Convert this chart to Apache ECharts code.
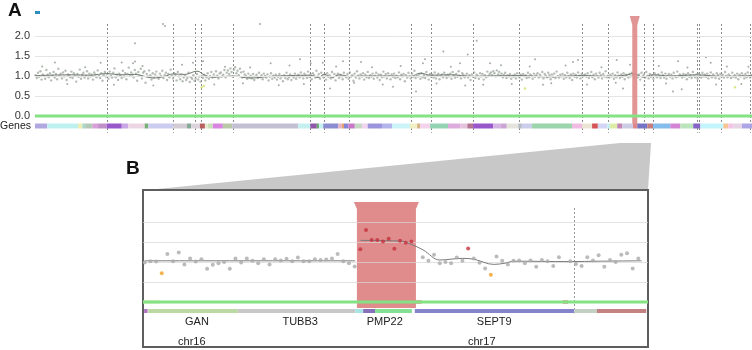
<!DOCTYPE html>
<html><head><meta charset="utf-8">
<script src="https://cdn.jsdelivr.net/npm/echarts@6/dist/echarts.min.js"></script>
<style>html,body{margin:0;padding:0;background:#fff}#c{width:752px;height:350px}</style>
</head><body><div id="c"></div>
<script>
// ---------- Panel A data ----------
const aVals = [
1.02,0.95,1.08,0.98,1.12,0.91,1.04,1.00,0.93,1.15,1.03,0.97,1.07,0.89,1.01,1.10,0.96,1.05,0.92,1.18,
1.00,1.06,0.94,1.09,0.99,1.13,0.90,1.04,1.02,0.97,1.11,0.95,1.07,1.01,0.86,1.05,0.98,1.16,0.93,1.03,
1.08,0.96,1.01,1.12,0.94,1.06,0.99,1.03,0.91,1.09,1.04,0.97,1.14,1.00,0.95,1.07,0.88,1.02,1.10,0.98,
1.05,0.93,1.11,1.01,0.96,1.08,1.19,0.97,1.04,0.90,1.06,1.02,0.95,1.13,0.99,1.07,0.92,1.05,1.21,1.00,
1.09,1.03,0.97,1.15,1.06,0.88,1.10,1.01,1.18,0.94,1.08,1.12,0.83,1.05,0.99,1.14,1.02,0.91,1.07,0.96,
1.04,1.11,0.98,0.93,1.06,1.00,1.13,0.95,1.02,1.08,0.90,1.05,0.97,1.16,1.01,0.94,1.07,1.03,0.89,1.10,
0.99,0.92,1.04,0.87,0.96,1.01,0.90,0.95,1.08,0.85,0.97,0.93,1.02,0.88,0.94,1.05,0.91,0.98,0.86,1.00,
0.95,1.03,0.89,0.97,1.07,0.93,1.00,1.10,0.96,1.04,0.98,1.12,1.01,0.94,1.06,1.09,0.99,1.03,1.15,0.97,
1.08,1.14,1.05,1.19,1.10,0.98,1.16,1.22,1.07,1.13,1.02,1.18,1.09,0.96,1.11,1.04,1.00,0.93,1.06,0.97,
1.01,0.94,1.05,0.90,0.99,1.03,0.95,1.08,0.97,1.02,0.92,1.06,1.00,0.96,1.04,0.89,0.98,1.07,0.93,1.01,
0.96,1.03,0.91,0.98,1.05,0.94,0.99,0.87,1.02,0.95,1.08,0.92,0.97,1.04,0.90,1.00,0.96,1.06,0.93,0.99,
1.03,0.97,1.09,1.00,0.94,1.06,1.01,0.95,1.11,0.98,1.04,0.92,1.07,1.02,0.96,1.13,0.99,1.05,0.93,1.08,
1.00,0.96,1.04,0.91,1.07,0.98,1.02,0.94,1.10,0.97,1.05,0.89,1.01,1.06,0.95,1.03,0.99,0.92,1.08,1.00,
0.97,1.05,0.93,1.09,0.98,1.02,0.88,1.06,0.96,1.12,1.01,0.94,1.04,0.99,1.07,0.91,1.03,0.97,1.10,0.95,
1.02,0.98,1.06,0.93,1.01,1.08,0.96,1.04,0.90,1.03,0.97,1.11,0.99,1.05,0.94,1.07,1.00,0.92,1.04,0.98,
1.06,0.95,1.01,0.97,1.09,0.92,1.03,0.99,1.05,0.87,1.02,0.96,1.08,1.00,0.94,1.06,0.98,1.13,0.95,1.01,
0.99,1.04,0.93,1.07,0.97,1.02,0.95,1.10,1.00,0.91,1.05,0.98,1.03,0.96,1.09,0.94,1.01,1.06,0.92,1.00,
1.04,0.97,1.08,1.01,0.95,1.03,0.99,1.06,0.93,1.10,1.02,0.96,1.05,0.98,1.12,1.00,0.94,1.07,1.03,0.97,
1.01,1.06,0.96,1.02,0.90,1.04,0.98,1.09,0.95,1.03,1.00,0.93,1.07,0.99,1.05,0.91,1.02,0.97,1.11,1.00,
1.05,1.09,1.02,1.12,1.07,0.99,1.14,1.04,1.10,1.01,1.06,0.97,1.03,1.08,0.95,1.02,0.99,1.05,0.93,1.01,
0.98,1.04,0.94,1.07,1.00,0.96,1.03,0.91,1.05,0.99,1.02,0.95,1.08,0.97,1.04,1.00,0.93,1.06,0.98,1.02,
1.07,0.96,1.03,0.99,1.10,0.94,1.05,1.01,0.97,1.08,1.02,0.92,1.04,0.98,1.06,0.95,1.11,1.00,0.96,1.03,
0.99,1.05,0.93,1.02,0.97,1.08,1.00,0.95,1.04,0.90,1.06,0.98,1.03,0.96,1.09,1.01,0.94,1.05,0.99,1.02,
1.04,0.98,1.07,0.95,1.01,1.10,0.97,1.03,0.92,1.06,1.00,0.96,1.08,1.02,0.94,1.05,0.99,1.12,0.97,1.01,
0.96,1.03,0.99,1.06,0.93,1.02,0.97,1.09,1.01,0.95,1.04,0.98,1.07,0.92,1.03,1.00,0.96,1.05,0.99,1.08,
1.02,0.95,1.06,1.00,0.97,1.04,0.91,1.08,0.99,1.03,0.96,1.10,1.01,0.94,1.05,0.98,1.02,0.93,1.07,1.00,
0.97,1.04,1.00,0.95,1.09,1.02,0.96,1.06,0.93,1.01,1.05,0.98,1.03,0.94,1.08,1.00,0.97,1.11,0.99,1.04,
1.01,0.96,1.05,0.99,1.03,0.92,1.07,0.98,1.02,0.95,1.10,1.00,0.97,1.04,0.93,1.06,1.01,0.96,1.08,0.99,
1.03,0.98,1.06,0.94,1.01,1.09,0.97,1.04,1.00,0.95,1.07,1.02,0.93,1.05,0.99,1.03,0.96,1.10,1.01,0.97,
1.04,1.00,0.95,1.08,0.98,1.02,0.96,1.06,0.92,1.03,0.99,1.07,1.01,0.94,1.05,0.97,1.09,1.00,0.96,1.02
];
const aOutX = [178.5,181.3,139.5,27.9,91.6,120.9,139.5,136.7,220.4,234.3,313.8,328.7,369.6,384.5,401.3,429.6,454.7,543.9,541.1,569.5,
  603.5,616.0,592.7,634.6,531.4,499.3,411.4,697.4,750.3,757.3,811.3,896.8,935.8,942.4,820.1,889.8,901.9,708.5,
  10,45,70,110,150,165,205,250,265,290,300,340,355,375,420,445,470,485,510,560,580,625,650,665,690,720,740,770,790,810,830,850,870,880,910,950,965,985,995,600];
const aOutY = [2.30,2.25,1.82,1.34,1.33,1.34,1.36,1.32,1.33,1.37,2.30,1.32,1.42,1.32,1.33,1.37,1.35,1.42,1.32,1.61,
  1.54,1.88,1.32,1.32,0.61,0.73,0.69,1.42,1.35,1.40,1.40,1.37,1.47,1.33,0.69,0.61,0.67,0.78,
  1.24,0.80,1.22,0.78,1.25,0.76,1.28,0.79,1.23,0.82,1.21,0.77,1.26,0.80,1.24,0.83,1.22,0.79,1.25,0.81,1.23,0.78,1.27,0.80,1.24,0.82,1.26,0.79,1.22,0.83,1.28,0.77,1.25,0.81,1.21,0.79,1.24,0.80,1.23,0.76];
const aYellowX = [232.5,235.7,683.4,976.3];
const aYellowY = [0.72,0.75,0.69,0.72];
const aLineX = [0,21,49,77,100,119,139,165,181,192,209,226,237,248,276,300,328,356,384,395,403,414,425,438,467,502,524,537,552,579,611,635,675,718,763,799,823,834,849,862,886,923,957,1000];
const aLineY = [1.01,1.02,1.03,1.02,1.06,1.03,1.04,0.95,0.99,1.05,1.04,1.12,1.02,0.97,1.00,0.95,0.99,1.01,1.02,0.96,1.04,0.97,1.03,0.99,1.00,1.00,0.99,1.07,1.02,1.03,0.99,1.00,1.01,0.98,1.01,0.99,1.02,1.06,0.97,1.03,1.00,1.03,0.99,1.01];
const aBoundaries = [100,193,223,232,276,384,403,438,524,552,611,675,763,799,849,862,923,926,957,997];
const aHighlight = [833,840];
const aGeneStarts = [0,17,60,66,70,80,88,100,121,130,
  153,158,193,212,218,230,237,241,248,262,
  275,367,384,393,396,402,423,428,431,437,
  446,456,464,484,498,523,533,537,551,576,
  593,603,611,639,649,658,674,679,693,749,
  763,777,785,798,802,812,819,834,840,854,
  862,886,900,918,928,960,967,974,986];
const aGeneEnd = 1000;
const aTicks = [0,0.5,1,1.5,2];

// ---------- Panel B data ----------
const bIdx = [0,1,2,3,4,5,6,7,8,9,10,11,12,13,14,15,16,17,18,19,20,21,22,23,24,25,26,27,28,29,30,31,32,33,34,35,36,37,
  38,39,40,41,42,43,44,45,46,47,
  49,50,51,52,53,54,55,56,57,58,59,60,61,62,63,64,65,66,67,68,69,70,71,72,73,
  75,76,77,78,79,80,81,82,83,84,85,86,87];
const bVal = [0.99,1.02,1.01,0.72,1.20,1.02,1.24,0.94,1.09,1.01,1.07,0.83,0.93,0.97,1.00,0.83,1.09,0.99,1.09,1.03,0.97,1.07,0.94,1.07,1.04,1.08,1.02,1.11,1.02,1.02,1.07,1.05,1.06,1.09,1.20,1.02,0.97,0.89,
  1.32,1.80,1.55,1.55,1.51,1.58,1.33,1.53,1.48,1.51,
  1.12,1.03,1.18,0.97,1.00,0.97,1.11,1.03,1.34,1.09,0.98,0.84,0.68,1.14,1.03,0.94,1.03,1.04,0.97,1.04,0.88,1.05,1.02,0.90,1.12,
  1.02,0.95,0.90,1.12,1.04,1.17,0.88,1.05,1.00,1.18,1.22,0.84,1.09];
const bFlagRed = [38,39,40,41,42,43,44,45,46,47,57];
const bFlagOrange = [3,61];
const bLineX = [0,10,20,30,37.1,37.5,38,45.3,47,49.1,52,56,58,61.5,63.5,65,75,80,87.6];
const bLineY = [1.03,1.03,1.03,1.03,1.03,'-',1.54,1.52,1.44,1.30,1.05,1.09,1.07,0.94,0.97,1.02,1.01,1.02,1.03];
const bHighlight = [37.4,47.8];
const bBoundaries = [75.6];
const bGeneStart = [-0.1,0.6,16.4,37.1,38.5,40.6,47.6,75.7,79.7];
const bGeneEnd   = [0.5,16.4,37.1,38.5,40.6,47.1,75.7,79.7,88.4];
const bGreenBits = [[-0.3,2.6],[47.8,48.8],[73.7,74.6]];
const bGeneLabels = ['GAN','TUBB3','PMP22','SEPT9'];
const bGeneLabelPos = [9.2,27.4,42.3,61.6];
const bChromLabels = ['chr16','chr17'];
const bChromPos = [8.3,59.4];
const bTicks = [0.5,1,1.5,2];

// ---------- styles ----------
const aGeneColors = ['#b0a8e0','#bff0f0','#eeeeb4','#a8d8c8','#b4c8b8','#d8a0d8','#c090c8','#9858cc','#c8a8e4','#ecd6e4',
  '#78b078','#ccccf0','#d4ccd4','#88a898','#dcd4dc','#b86060','#e8e8d0','#c8e0b8','#d884e0','#b8c8a8',
  '#c4c0d4','#c4f0f0','#9058a8','#68a868','#c4f0f0','#8c8cd0','#e4b4c4','#e0a070','#8484d4','#c878c8',
  '#c4d8c4','#f0d4f0','#9c94dc','#b4b4ec','#ccf4f8','#f0f0c4','#d4b484','#f4d4ec','#94d4b4','#dcacdc',
  '#e4c4dc','#b47494','#9858cc','#d4b4e4','#cca4d4','#e4e4dc','#b4bcc4','#ccccec','#9cd4ac','#f0bce4',
  '#ece4d4','#d45454','#d4d4f4','#c4f0f4','#dceca4','#c484b4','#cccce4','#e08888','#7474c4','#c47c7c',
  '#84bcec','#d484d4','#bce4bc','#8464c4','#c4f4fc','#f4c494','#f4c4e4','#e4d4e4','#aca4e4'];
const bGeneColors = ['#b070c0','#bcd9a4','#c8c8c8','#a8e4e4','#8870b8','#84e094','#8484cc','#c4d0c4','#c48282'];
const bGreenColors = ['#cdeaa4','#d05050','#d05050'];
const GREEN = '#84e184';
const HL = '#e08c8c';
const FONT = 'Liberation Sans, Arial, sans-serif';

const chart = echarts.init(document.getElementById('c'), null, {renderer:'canvas'});

const gridLineSeries = (xi, ticks, color, z) => ({
  type:'line', xAxisIndex:xi, yAxisIndex:xi, data:[], silent:true, z:z,
  markLine:{silent:true, symbol:'none', animation:false, label:{show:false},
    lineStyle:{color:color, width:1, type:'solid'},
    data:ticks.map(t=>({yAxis:t}))}
});

const option = {
  animation:false,
  textStyle:{fontFamily:FONT},
  grid:[
    {left:35, top:14, width:717, height:122, outerBoundsMode:'none', containLabel:false},
    {left:143, top:190, width:505, height:157, show:true, borderColor:'#5e5e5e', borderWidth:2, backgroundColor:'#fff', outerBoundsMode:'none', containLabel:false}
  ],
  xAxis:[
    {type:'value', gridIndex:0, min:0, max:1000, show:false},
    {type:'value', gridIndex:1, min:-0.3, max:88.7, show:false}
  ],
  yAxis:[
    {type:'value', gridIndex:0, min:-0.5, max:2.55, interval:0.5,
      axisLine:{show:false}, axisTick:{show:false}, splitLine:{show:false},
      axisLabel:{show:true, margin:5, color:'#333', fontSize:11, fontFamily:FONT,
        formatter:v=> (aTicks.indexOf(Math.round(v*10)/10)>=0 ? v.toFixed(1) : '')}},
    {type:'value', gridIndex:1, min:-1.125, max:2.8, show:false}
  ],
  graphic:[
    {type:'polygon', z:-1, shape:{points:[[147,190],[620,143],[651,143],[648,190]]}, style:{fill:'#c8c8c8'}},
    {type:'text', x:8, y:1, style:{text:'A', font:'bold 19px '+FONT, fill:'#111'}},
    {type:'text', x:126, y:159, style:{text:'B', font:'bold 19px '+FONT, fill:'#111'}},
    {type:'rect', shape:{x:35, y:11, width:5, height:3}, style:{fill:'#2b8cbe'}},
    {type:'text', x:31, y:126, style:{text:'Genes', font:'10.5px '+FONT, fill:'#222', align:'right', verticalAlign:'middle'}}
  ],
  series:[
    // ----- A -----
    gridLineSeries(0, [0.5,1,1.5,2], '#e4e4e4', 1),
    {type:'custom', xAxisIndex:0, yAxisIndex:0, z:2, silent:true,
      data:aBoundaries.map(x=>[x,0]),
      renderItem:(p,api)=>{const a=api.coord([api.value(0),2.3]);const b=api.coord([api.value(0),-0.42]);
        const x=Math.round(a[0])+0.5;
        return {type:'line', shape:{x1:x,y1:a[1],x2:x,y2:b[1]}, style:{stroke:'#8a8a8a', lineWidth:1, lineDash:[2,2]}};}},
    {type:'scatter', xAxisIndex:0, yAxisIndex:0, z:3, silent:true, symbolSize:2.4,
      itemStyle:{color:'#8f9a8f', opacity:0.65},
      data:aVals.map((v,i)=>[(i+0.5)*aGeneEnd/aVals.length, v])},
    {type:'scatter', xAxisIndex:0, yAxisIndex:0, z:3, silent:true, symbolSize:2,
      itemStyle:{color:'#8e998e', opacity:0.8},
      data:aOutX.map((x,i)=>[x,aOutY[i]])},
    {type:'scatter', xAxisIndex:0, yAxisIndex:0, z:3, silent:true, symbolSize:2.5,
      itemStyle:{color:'#d8e070'},
      data:aYellowX.map((x,i)=>[x,aYellowY[i]])},
    {type:'line', xAxisIndex:0, yAxisIndex:0, z:4, silent:true, smooth:0.4, showSymbol:false,
      lineStyle:{color:'#6f7a6f', width:1},
      data:aLineX.map((x,i)=>[x,aLineY[i]])},
    {type:'custom', xAxisIndex:0, yAxisIndex:0, z:5, silent:true,
      data:[[aHighlight[0], aHighlight[1]]],
      encode:{x:[0,1]},
      renderItem:(p,api)=>{const s=api.coord([api.value(0),2.5]);const e=api.coord([api.value(1),2.5]);
        const b=api.coord([api.value(0),-0.23])[1];const t=s[1];const n=t+9;
        return {type:'polygon', shape:{points:[[s[0]-2.5,t],[e[0]+2.5,t],[e[0],n],[e[0],b],[s[0],b],[s[0],n]]}, style:{fill:HL, opacity:0.92}};}},
    {type:'line', xAxisIndex:0, yAxisIndex:0, z:6, silent:true, showSymbol:false,
      lineStyle:{color:GREEN, width:3}, data:[[0,0],[1000,0]]},
    {type:'custom', xAxisIndex:0, yAxisIndex:0, z:6, silent:true,
      data:aGeneStarts.map((s,i)=>[s, i+1<aGeneStarts.length?aGeneStarts[i+1]:aGeneEnd, i]),
      encode:{x:[0,1]},
      renderItem:(p,api)=>{const s=api.coord([api.value(0),-0.25]);const e=api.coord([api.value(1),-0.25]);
        return {type:'rect', shape:{x:s[0], y:s[1]-2.5, width:e[0]-s[0], height:5}, style:{fill:aGeneColors[api.value(2)]}};}},

    // ----- B -----
    {type:'custom', xAxisIndex:1, yAxisIndex:1, z:2, silent:true,
      data:[[bHighlight[0], bHighlight[1]]],
      encode:{x:[0,1]},
      renderItem:(p,api)=>{const s=api.coord([api.value(0),2.5]);const e=api.coord([api.value(1),2.5]);
        const b=api.coord([api.value(0),-0.15])[1];const t=s[1];const n=t+7;
        return {type:'polygon', shape:{points:[[s[0]-3,t],[e[0]+3,t],[e[0],n],[e[0],b],[s[0],b],[s[0],n]]}, style:{fill:HL}};}},
    gridLineSeries(1, bTicks, 'rgba(215,215,215,0.7)', 3),
    {type:'custom', xAxisIndex:1, yAxisIndex:1, z:3, silent:true,
      data:bBoundaries.map(x=>[x,0]),
      renderItem:(p,api)=>{const a=api.coord([api.value(0),2.35]);const b=api.coord([api.value(0),-0.28]);
        const x=Math.round(a[0])+0.5;
        return {type:'line', shape:{x1:x,y1:a[1],x2:x,y2:b[1]}, style:{stroke:'#9a9a9a', lineWidth:1, lineDash:[2,2]}};}},
    {type:'line', xAxisIndex:1, yAxisIndex:1, z:4, silent:true, showSymbol:false,
      lineStyle:{color:GREEN, width:3}, data:[[-0.3,0],[88.7,0]]},
    {type:'custom', xAxisIndex:1, yAxisIndex:1, z:4, silent:true,
      data:bGreenBits.map((g,i)=>[g[0],g[1],i]),
      encode:{x:[0,1]},
      renderItem:(p,api)=>{const s=api.coord([api.value(0),0]);const e=api.coord([api.value(1),0]);
        return {type:'rect', shape:{x:s[0], y:s[1]-1.5, width:e[0]-s[0], height:3}, style:{fill:bGreenColors[api.value(2)]}};}},
    {type:'custom', xAxisIndex:1, yAxisIndex:1, z:4, silent:true,
      data:bGeneStart.map((s,i)=>[s,bGeneEnd[i],i]),
      encode:{x:[0,1]},
      renderItem:(p,api)=>{const s=api.coord([api.value(0),-0.225]);const e=api.coord([api.value(1),-0.225]);
        return {type:'rect', shape:{x:s[0], y:s[1]-2, width:e[0]-s[0], height:4}, style:{fill:bGeneColors[api.value(2)]}};}},
    {type:'line', xAxisIndex:1, yAxisIndex:1, z:5, silent:true, smooth:0.35, showSymbol:false, connectNulls:false,
      lineStyle:{color:'#7a7a7a', width:1},
      data:bLineX.map((x,i)=>[x,bLineY[i]])},
    {type:'scatter', xAxisIndex:1, yAxisIndex:1, z:6, silent:true, symbolSize:4,
      data:bIdx.map((x,i)=>({value:[x,bVal[i]],
        itemStyle:{color: bFlagRed.indexOf(x)>=0 ? '#c4323f' : (bFlagOrange.indexOf(x)>=0 ? '#f0a028' : '#a9abaa')}}))},
    {type:'custom', xAxisIndex:1, yAxisIndex:1, z:7, silent:true,
      data:bGeneLabelPos.map((x,i)=>[x,-0.5,i]),
      renderItem:(p,api)=>{const c=api.coord([api.value(0),api.value(1)]);
        return {type:'text', x:c[0], y:c[1], style:{text:bGeneLabels[api.value(2)], font:'11px '+FONT, fill:'#222', align:'center', verticalAlign:'middle'}};}},
    {type:'custom', xAxisIndex:1, yAxisIndex:1, z:7, silent:true,
      data:bChromPos.map((x,i)=>[x,-0.99,i]),
      renderItem:(p,api)=>{const c=api.coord([api.value(0),api.value(1)]);
        return {type:'text', x:c[0], y:c[1], style:{text:bChromLabels[api.value(2)], font:'11px '+FONT, fill:'#222', align:'center', verticalAlign:'middle'}};}}
  ]
};
chart.setOption(option);
</script></body></html>
